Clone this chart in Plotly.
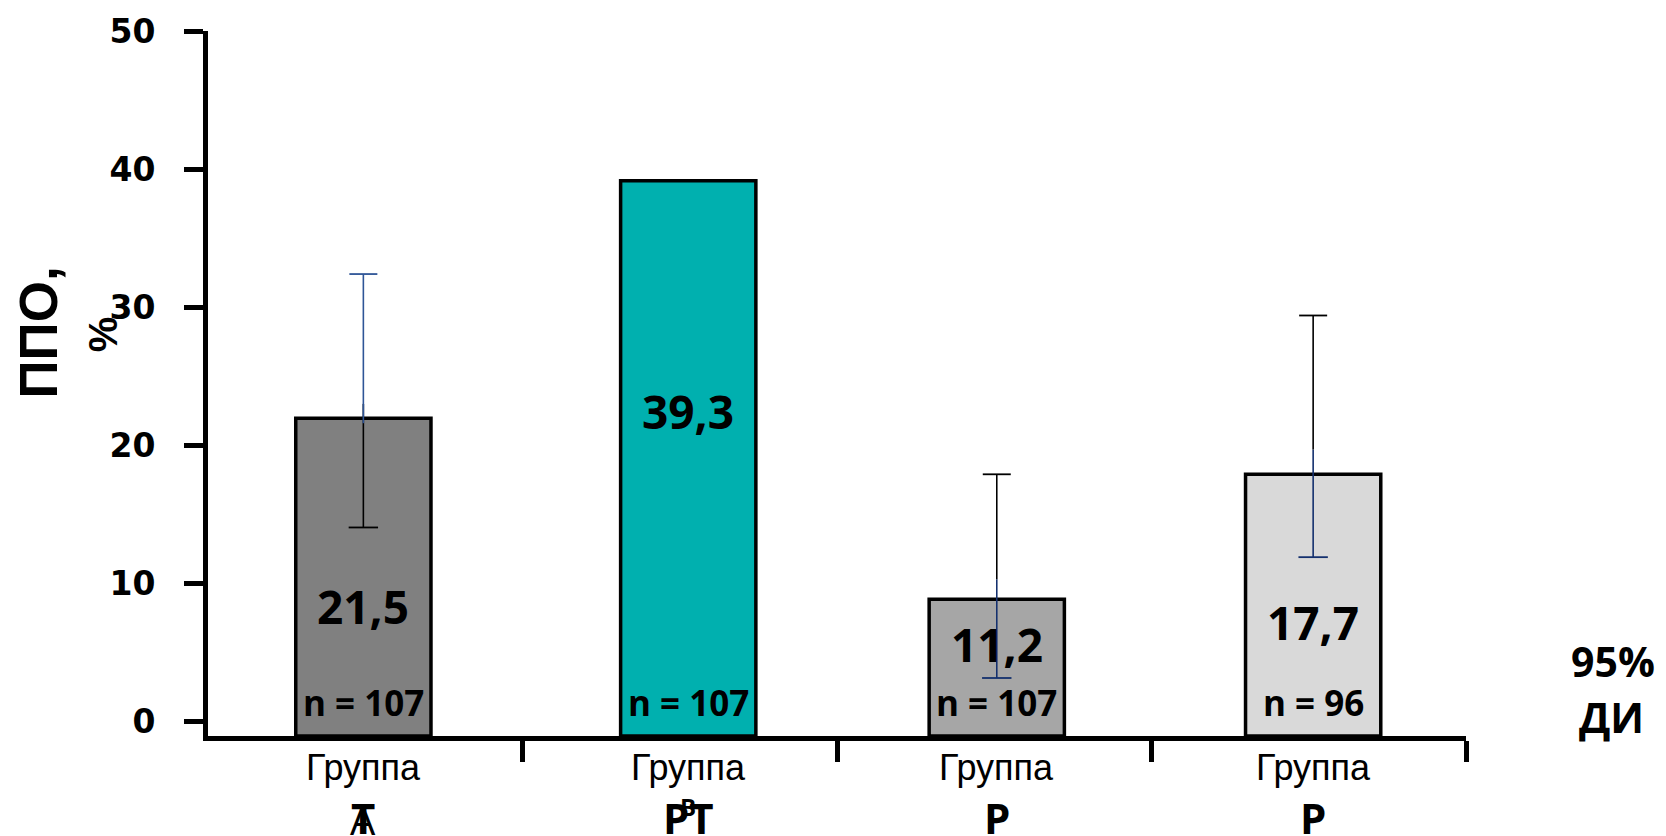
import plotly.graph_objects as go

# ---------------- data ----------------
group_word = ["Группа", "Группа", "Группа", "Группа"]
group_code = ["Т", "РТ", "Р", "Р"]
group_code_overlay = ["А", "В", "", ""]
bar_heights = [21.95, 39.15, 8.85, 17.9]          # visual bar heights, %
value_labels = ["21,5", "39,3", "11,2", "17,7"]
n_labels = ["n = 107", "n = 107", "n = 107", "n = 96"]
ci_low = [14.05, None, 3.15, 11.9]
ci_high = [32.4, None, 17.9, 29.4]
ci_split_upper = [21.6, None, 10.3, 19.7]
ci_split_lower = [23.0, None, 10.3, 19.7]
y_ticks = [0, 10, 20, 30, 40, 50]

# ---------------- style ----------------
bar_colors = ["#808080", "#00B0AF", "#A6A6A6", "#D9D9D9"]
upper_colors = ["#2F5597", None, "#000000", "#000000"]
lower_colors = ["#000000", None, "#14306E", "#14306E"]
bar_offsets = [-0.006, 0.027, 0.008, 0.014]
value_label_y = [8.33, 22.5, 5.6, 7.2]
n_label_y = 1.4
overlay_sizes = [40, 24, 40, 40]
overlay_weight = ["normal", "bold", "normal", "normal"]
overlay_y = [-0.118, -0.100, -0.118, -0.118]
Y_MIN, Y_MAX = -1.05, 50

xs = [i + bar_offsets[i] for i in range(len(group_word))]

fig = go.Figure()

fig.add_trace(go.Bar(
    x=xs,
    y=[h - Y_MIN for h in bar_heights],
    base=Y_MIN,
    width=0.43,
    marker=dict(color=bar_colors, line=dict(color="black", width=3.5)),
    hoverinfo="skip",
    showlegend=False,
))

# confidence-interval whiskers (two coloured halves each)
for i, x in enumerate(xs):
    if ci_low[i] is None:
        continue
    fig.add_trace(go.Scatter(
        x=[x, x], y=[ci_low[i], ci_split_lower[i]], mode="lines",
        line=dict(color=lower_colors[i], width=1.6),
        hoverinfo="skip", showlegend=False))
    fig.add_trace(go.Scatter(
        x=[x], y=[ci_low[i]], mode="markers",
        marker=dict(symbol="line-ew", size=21,
                    line=dict(color=lower_colors[i], width=1.8)),
        hoverinfo="skip", showlegend=False))
    fig.add_trace(go.Scatter(
        x=[x, x], y=[ci_split_upper[i], ci_high[i]], mode="lines",
        line=dict(color=upper_colors[i], width=1.6),
        hoverinfo="skip", showlegend=False))
    fig.add_trace(go.Scatter(
        x=[x], y=[ci_high[i]], mode="markers",
        marker=dict(symbol="line-ew", size=20,
                    line=dict(color=upper_colors[i], width=1.8)),
        hoverinfo="skip", showlegend=False))

annotations = []
for i, x in enumerate(xs):
    annotations.append(dict(
        x=x, y=value_label_y[i], xref="x", yref="y", text=value_labels[i],
        showarrow=False, font=dict(family="Open Sans", size=46, color="black", weight="bold")))
    annotations.append(dict(
        x=x, y=n_label_y, xref="x", yref="y", text=n_labels[i],
        showarrow=False, font=dict(family="Open Sans", size=35, color="black", weight="bold")))
    annotations.append(dict(
        x=x, y=-0.044, xref="x", yref="paper", text=group_word[i],
        showarrow=False, yanchor="middle",
        font=dict(family="Liberation Sans", size=36, color="black")))
    if group_code_overlay[i]:
        annotations.append(dict(
            x=x, y=overlay_y[i], xref="x", yref="paper", text=group_code_overlay[i],
            showarrow=False, yanchor="middle",
            font=dict(family="Open Sans", size=overlay_sizes[i], color="black",
                      weight=overlay_weight[i])))
    annotations.append(dict(
        x=x, y=-0.116, xref="x", yref="paper", text=group_code[i],
        showarrow=False, yanchor="middle",
        font=dict(family="Open Sans", size=42, color="black", weight="bold")))

# y-axis title parts
annotations.append(dict(
    x=-0.1350, y=0.5726, xref="paper", yref="paper", text="ППО,",
    textangle=-90, showarrow=False, xanchor="center", yanchor="middle",
    font=dict(family="Liberation Sans", size=53, color="black", weight="bold")))
annotations.append(dict(
    x=-0.0835, y=0.5698, xref="paper", yref="paper", text="%",
    textangle=-90, showarrow=False, xanchor="center", yanchor="middle",
    font=dict(family="Liberation Sans", size=40, color="black", weight="bold")))

# CI note
annotations.append(dict(
    x=1.1166, y=0.1058, xref="paper", yref="paper", text="95%",
    showarrow=False, xanchor="center", yanchor="middle",
    font=dict(family="Open Sans", size=41, color="black", weight="bold")))
annotations.append(dict(
    x=1.1158, y=0.0268, xref="paper", yref="paper", text="ДИ",
    showarrow=False, xanchor="center", yanchor="middle",
    font=dict(family="Open Sans", size=41, color="black", weight="bold")))

fig.update_layout(
    width=1666, height=836, autosize=False,
    margin=dict(l=208, r=200, t=27, b=100),
    paper_bgcolor="white", plot_bgcolor="white",
    showlegend=False,
    annotations=annotations,
    xaxis=dict(
        range=[-0.5, 3.5],
        showgrid=False, zeroline=False,
        showline=True, linecolor="black", linewidth=5,
        ticks="outside", ticklen=21, tickwidth=5, tickcolor="black",
        tickvals=[0.5, 1.5, 2.5, 3.5], showticklabels=False,
    ),
    yaxis=dict(
        range=[Y_MIN, Y_MAX],
        showgrid=False, zeroline=False,
        showline=True, linecolor="black", linewidth=5,
        ticks="outside", ticklen=19, tickwidth=5, tickcolor="black",
        tickvals=y_ticks, ticktext=[str(t) for t in y_ticks],
        tickfont=dict(family="DejaVu Sans", size=33, color="black", weight="bold"),
        ticklabelstandoff=22,
    ),
)

fig.write_html(
    "out.html",
    config={"displayModeBar": False},
    post_script="document.body.style.margin='0';document.body.style.overflow='hidden';",
)
